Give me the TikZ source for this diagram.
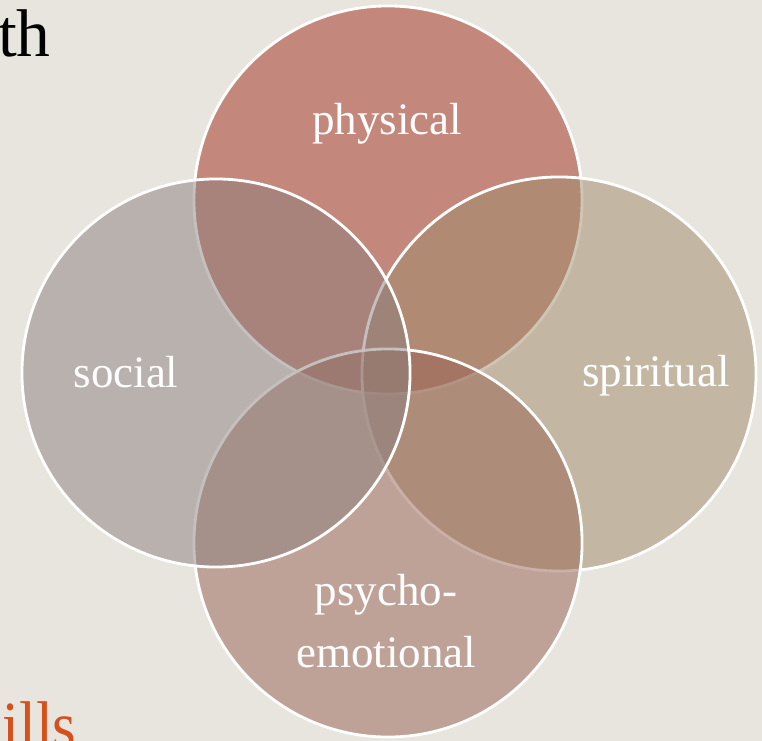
\documentclass[tikz,border=0pt]{standalone}
\usepackage{fontspec}
\setmainfont{Liberation Serif}
\definecolor{bgc}{RGB}{232,228,222}
\definecolor{physc}{RGB}{160,46,26}
\definecolor{spirc}{RGB}{160,140,108}
\definecolor{socc}{RGB}{140,128,126}
\definecolor{psyc}{RGB}{152,98,82}
\definecolor{skc}{RGB}{213,80,28}

\begin{document}
\begin{tikzpicture}[x=0.025cm, y=-0.025cm,
	ring/.style={circle, draw=white, line width=2pt, fill opacity=0.5,
	             minimum size=9.7cm, inner sep=0pt},
	lbl/.style={text=white, font=\fontsize{32}{44}\selectfont, anchor=base,
	            inner sep=0pt, align=center},
	big/.style={font=\fontsize{48}{56}\selectfont, anchor=base, inner sep=0pt}]
	 \useasboundingbox (0,0) rectangle (762,741);
	 \fill[bgc] (0,0) rectangle (762,741);
	 \clip (0,0) rectangle (762,741);

	 % cut-off title words
	 \node[big, anchor=base east] (title) at (51,57) {th};
	 \node[big, anchor=base west, text=skc, xscale=0.9] (skills) at (2,748) {ills};

	 % the four rings
	 \node[ring, fill=physc] (phys) at (388,200) {};
	 \node[ring, fill=spirc, minimum size=9.85cm] (spir) at (559,374) {};
	 \node[ring, fill=psyc] (psy) at (388,543) {};
	 \node[ring, fill=socc] (soc) at (216,373) {};

	 \node[lbl] (physlbl) at (387,135) {physical};
	 \node[lbl] (spirlbl) at (656,386) {spiritual};
	 \node[lbl] (soclbl) at (126,387) {social};
	 \node[lbl] (psylbl) at (386,667) {psycho-\\emotional};
\end{tikzpicture}
\end{document}
